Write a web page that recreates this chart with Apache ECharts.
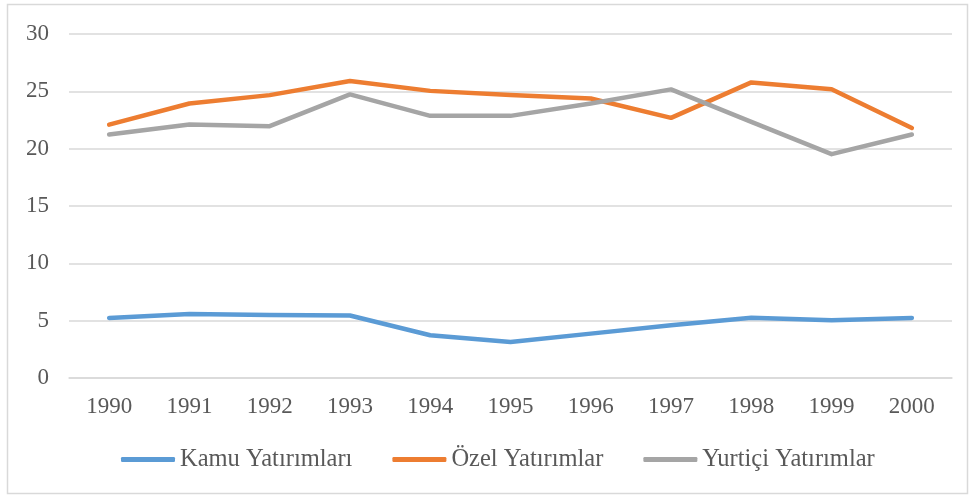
<!DOCTYPE html>
<html>
<head>
<meta charset="utf-8">
<script src="https://cdn.jsdelivr.net/npm/echarts@6/dist/echarts.min.js"></script>
<style>
  html, body { margin: 0; padding: 0; background: #fff; }
  #main { width: 972px; height: 496px; }
</style>
</head>
<body>
<div id="main"></div>
<script>
var years = ['1990', '1991', '1992', '1993', '1994', '1995', '1996', '1997', '1998', '1999', '2000'];
var kamu = [5.24, 5.58, 5.5, 5.45, 3.73, 3.14, 3.87, 4.6, 5.25, 5.03, 5.24];
var ozel = [22.1, 23.94, 24.67, 25.9, 25.04, 24.67, 24.38, 22.69, 25.78, 25.19, 21.8];
var yurtici = [21.24, 22.1, 21.96, 24.73, 22.86, 22.86, 23.94, 25.17, 22.34, 19.52, 21.24];
var seriesNames = ['Kamu Yatırımları', 'Özel Yatırımlar', 'Yurtiçi Yatırımlar'];

var myChart = echarts.init(document.getElementById('main'));

var font = 'Liberation Serif';
var textColor = '#595959';

function line(name, data, color) {
  return {
    name: name,
    type: 'line',
    data: data,
    symbol: 'none',
    lineStyle: { color: color, width: 4.5, cap: 'round', join: 'round' },
    itemStyle: { color: color }
  };
}

var option = {
  backgroundColor: '#fff',
  animation: false,
  graphic: [{
    type: 'rect',
    shape: { x: 7.5, y: 4.5, width: 960, height: 489 },
    style: { fill: 'none', stroke: '#d9d9d9', lineWidth: 1.5 },
    silent: true
  }],
  legend: {
    bottom: 19,
    left: 116,
    itemWidth: 54,
    itemHeight: 5,
    itemGap: 40,
    icon: 'roundRect',
    textStyle: { fontFamily: font, fontSize: 24.5, color: textColor },
    data: seriesNames
  },
  grid: {
    left: 69,
    right: 20,
    top: 34,
    bottom: 118
  },
  xAxis: {
    type: 'category',
    data: years,
    boundaryGap: true,
    axisLine: { show: true, lineStyle: { color: '#d9d9d9', width: 1.5 } },
    axisTick: { show: false },
    axisLabel: { fontFamily: font, fontSize: 23, color: textColor, margin: 17 }
  },
  yAxis: {
    type: 'value',
    min: 0,
    max: 30,
    interval: 5,
    axisLine: { show: false },
    axisTick: { show: false },
    axisLabel: { fontFamily: font, fontSize: 23, color: textColor, margin: 20 },
    splitLine: { lineStyle: { color: '#d9d9d9', width: 1.5 } }
  },
  series: [
    line(seriesNames[0], kamu, '#5B9BD5'),
    line(seriesNames[1], ozel, '#ED7D31'),
    line(seriesNames[2], yurtici, '#A5A5A5')
  ]
};

myChart.setOption(option);
</script>
</body>
</html>
